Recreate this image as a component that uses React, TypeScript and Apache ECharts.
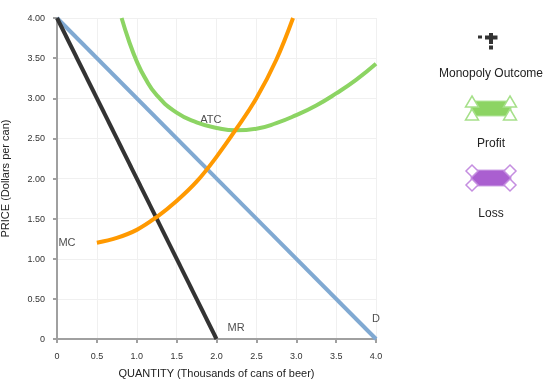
import React, { useEffect, useRef } from "react";
import * as echarts from "echarts";

const demand: [number, number][] = [[0, 4], [4, 0]];
const marginalRevenue: [number, number][] = [[0, 4], [2, 0]];
const marginalCost: [number, number][] = [
  [0.5, 1.2], [0.75, 1.26], [1.0, 1.36], [1.25, 1.52], [1.5, 1.72], [1.75, 1.96],
  [2.0, 2.27], [2.25, 2.62], [2.5, 3.0], [2.75, 3.48], [2.96, 4.0],
];
const averageTotalCost: [number, number][] = [
  [0.81, 4.0], [0.9, 3.72], [1.0, 3.46], [1.1, 3.26], [1.25, 3.04], [1.5, 2.82],
  [1.75, 2.7], [2.0, 2.63], [2.25, 2.6], [2.5, 2.62], [2.75, 2.69], [3.0, 2.79],
  [3.25, 2.91], [3.5, 3.06], [3.75, 3.23], [4.0, 3.43],
];
const curveLabels = [
  { name: "ATC", value: [1.93, 2.74] },
  { name: "MC", value: [0.125, 1.21] },
  { name: "MR", value: [2.245, 0.15] },
  { name: "D", value: [4.0, 0.26] },
];
const legendItems = ["Monopoly Outcome", "Profit", "Loss"];

const FONT = 'Arial, "Liberation Sans", sans-serif';
const GREEN = "#8cd463";
const PURPLE = "#aa5fd0";

export default function App() {
  const ref = useRef<HTMLDivElement>(null);
  useEffect(() => {
    if (!ref.current) return;
    const chart = echarts.init(ref.current, undefined, { renderer: "svg" });
    const tri = (cx: number, cy: number) => ({
      type: "polygon",
      shape: { points: [[cx, cy - 6], [cx + 6.5, cy + 5], [cx - 6.5, cy + 5]] },
      style: { fill: "#fff", stroke: "#a6e08a", lineWidth: 1.5 },
    });
    const dia = (cx: number, cy: number) => ({
      type: "polygon",
      shape: { points: [[cx, cy - 6], [cx + 6, cy], [cx, cy + 6], [cx - 6, cy]] },
      style: { fill: "#fff", stroke: "#c58ee0", lineWidth: 1.5 },
    });
    const axisCommon = {
      type: "value" as const,
      min: 0,
      max: 4,
      interval: 0.5,
      axisLine: { show: true, lineStyle: { color: "#a0a0a0", width: 2 } },
      axisTick: { show: true, length: 4, lineStyle: { color: "#a0a0a0", width: 2 } },
      splitLine: { show: true, lineStyle: { color: "#f0f0f0", width: 1 } },
      nameLocation: "middle" as const,
      nameTextStyle: { fontSize: 11, color: "#222", fontFamily: FONT },
    };
    chart.setOption({
      animation: false,
      grid: { left: 57, right: 171, top: 18, bottom: 44, containLabel: false, outerBoundsMode: "none" },
      xAxis: {
        ...axisCommon,
        name: "QUANTITY (Thousands of cans of beer)",
        nameGap: 28,
        axisLabel: {
          fontSize: 9, color: "#333", fontFamily: FONT, margin: 12,
          formatter: (v: number) => (v === 0 ? "0" : v.toFixed(1)),
        },
      },
      yAxis: {
        ...axisCommon,
        name: "PRICE (Dollars per can)",
        nameGap: 47,
        axisLabel: {
          fontSize: 9, color: "#333", fontFamily: FONT, margin: 12,
          formatter: (v: number) => (v === 0 ? "0" : v.toFixed(2)),
        },
      },
      series: [
        { type: "line", data: demand, symbol: "none", lineStyle: { color: "#80a9d2", width: 4 } },
        { type: "line", data: marginalRevenue, symbol: "none", lineStyle: { color: "#333333", width: 4 } },
        { type: "line", data: averageTotalCost, smooth: 0.5, symbol: "none", lineStyle: { color: GREEN, width: 4 } },
        { type: "line", data: marginalCost, smooth: 0.4, symbol: "none", lineStyle: { color: "#ff9900", width: 4 } },
        {
          type: "scatter",
          data: curveLabels,
          symbolSize: 0,
          silent: true,
          label: {
            show: true,
            position: "inside",
            formatter: (p: any) => p.name,
            fontSize: 11,
            color: "#222",
            fontFamily: FONT,
          },
        },
      ],
      graphic: [
        { type: "rect", shape: { x: 478, y: 35.5, width: 4, height: 3 }, style: { fill: "#333" } },
        { type: "rect", shape: { x: 485, y: 35.5, width: 12.5, height: 4 }, style: { fill: "#333" } },
        { type: "rect", shape: { x: 489, y: 33, width: 4, height: 11 }, style: { fill: "#333" } },
        { type: "rect", shape: { x: 489, y: 45.5, width: 4, height: 4 }, style: { fill: "#333" } },
        {
          type: "text", x: 491, y: 73,
          style: { text: legendItems[0], fontSize: 12, fill: "#222", fontFamily: FONT, align: "center", verticalAlign: "middle" },
        },
        { type: "rect", shape: { x: 471, y: 101, width: 40, height: 15 }, style: { fill: GREEN, stroke: "#b5e6a0", lineWidth: 1 } },
        tri(472, 102), tri(510, 102), tri(472, 115), tri(510, 115),
        {
          type: "text", x: 491, y: 143,
          style: { text: legendItems[1], fontSize: 12, fill: "#222", fontFamily: FONT, align: "center", verticalAlign: "middle" },
        },
        { type: "rect", shape: { x: 471, y: 170, width: 40, height: 16 }, style: { fill: PURPLE, stroke: "#cfa5e6", lineWidth: 1 } },
        dia(472, 171), dia(510, 171), dia(472, 185), dia(510, 185),
        {
          type: "text", x: 491, y: 213,
          style: { text: legendItems[2], fontSize: 12, fill: "#222", fontFamily: FONT, align: "center", verticalAlign: "middle" },
        },
      ],
    });
    return () => chart.dispose();
  }, []);
  return <div ref={ref} style={{ position: "fixed", left: 0, top: 0, width: 547, height: 383 }} />;
}
